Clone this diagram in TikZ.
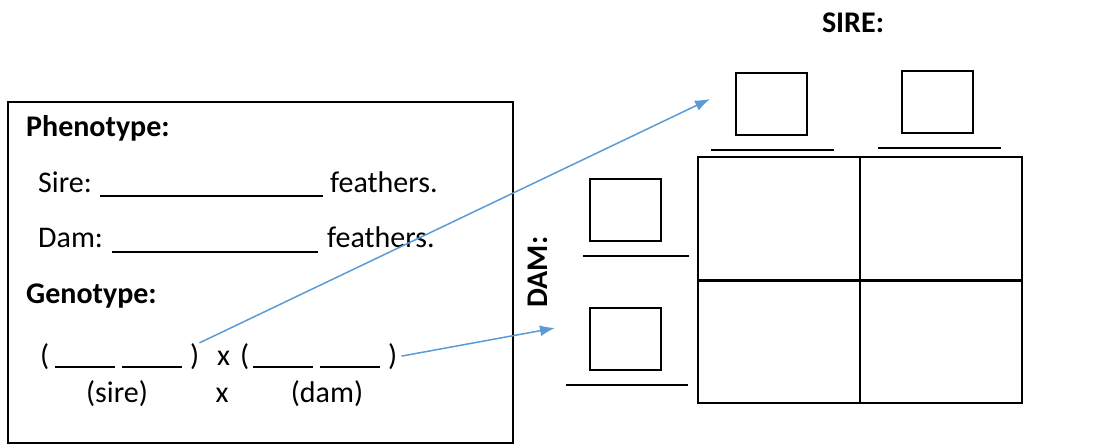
\documentclass[tikz,border=0pt]{standalone}
\usepackage{fontspec}
\setmainfont{Carlito}
\usetikzlibrary{arrows.meta}
\definecolor{arrowblue}{RGB}{91,155,213}

\begin{document}
\begin{tikzpicture}[x=1pt,y=-1pt,
	txt/.style={anchor=base west,inner sep=0pt,font=\fontsize{30}{36}\selectfont},
	mid/.style={txt,anchor=base},
	head/.style={txt,font=\fontsize{30}{36}\selectfont\bfseries},
	blank/.style={line width=1.6pt},
	allele/.style={draw,line width=2pt,minimum width=71pt,minimum height=62pt,inner sep=0pt},
	link/.style={draw=arrowblue,line width=1.5pt,-{Latex[length=15pt,width=11pt]}}]
	\useasboundingbox (0,0) rectangle (1094,445);
	% info box
	\draw[line width=1.6pt] (8,102) rectangle (513,443);
	\node[head] (pheno) at (26,136) {Phenotype:};
	\node[txt] (sire) at (38,192) {Sire:};
	\node[txt] (sirefeat) at (330,192) {feathers.};
	\node[txt] (dam) at (38,247) {Dam:};
	\node[txt] (damfeat) at (327,247) {feathers.};
	\node[head] (geno) at (26,303) {Genotype:};
	% genotype row
	\node[txt] (gopen1) at (40,365) {(};
	\node[txt] (gclose1) at (190,365) {)};
	\node[txt] (gcross) at (217,365) {x};
	\node[txt] (gopen2) at (240,365) {(};
	\node[txt] (gclose2) at (388,365) {)};
	\node[mid] (lsire) at (117,402) {(sire)};
	\node[mid] (lcross) at (222,402) {x};
	\node[mid] (ldam) at (327,402) {(dam)};
	% blanks
	\draw[blank] (100,196) -- (323,196);
	\draw[blank] (112,252) -- (318,252);
	\draw[blank] (55,367) -- (115,367) (122,367) -- (182,367)
		(253,367) -- (313,367) (320,367) -- (380,367);
	% punnett square
	\node[head,anchor=base] (sirehead) at (853,32) {SIRE:};
	\node[head,anchor=center,rotate=90] (damhead) at (538,272) {DAM:};
	\node[draw,line width=2pt,minimum width=324pt,minimum height=246pt,inner sep=0pt] (punnett) at (860,280) {};
	\draw[line width=2pt] (punnett.north) -- (punnett.south);
	\draw[line width=3pt] (punnett.west) -- (punnett.east);
	\node[allele] (s1) at (771.5,104) {};
	\node[allele] (s2) at (937.5,102) {};
	\node[allele] (d1) at (625.5,210) {};
	\node[allele] (d2) at (625.5,339) {};
	\draw[blank] (711,150) -- (834,150) (878,148) -- (1001,148)
		(583,256) -- (689,256) (566,385) -- (688,385);
	% arrows
	\coordinate (s1tip) at (710,99);
	\coordinate (d2tip) at (555,328);
	\draw[link] (gclose1.north east) -- (s1tip);
	\draw[link] (gclose2.east) ++(4,0) -- (d2tip);
\end{tikzpicture}
\end{document}
